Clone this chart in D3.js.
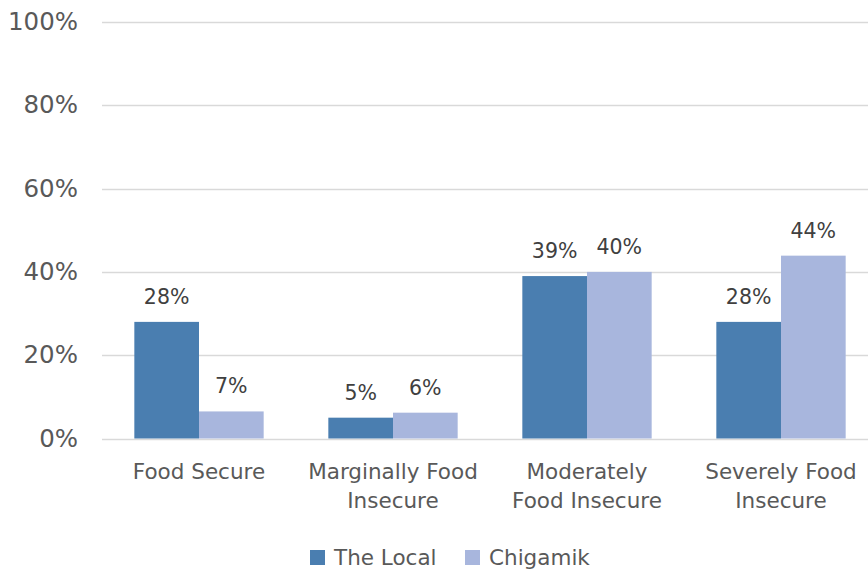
<!DOCTYPE html>
<html><head><meta charset="utf-8">
<script src="https://d3js.org/d3.v7.min.js"></script>
<style>html,body{margin:0;padding:0;background:#fff;}svg{display:block;font-family:"DejaVu Sans",sans-serif;}</style>
</head><body>
<svg id="c" width="868" height="569"></svg>
<script>
const categories = [["Food Secure"], ["Marginally Food", "Insecure"], ["Moderately", "Food Insecure"], ["Severely Food", "Insecure"]];
const categoryKeys = ["Food Secure", "Marginally Food Insecure", "Moderately Food Insecure", "Severely Food Insecure"];
const seriesNames = ["The Local", "Chigamik"];
const theLocal = [28, 5, 39, 28];
const chigamik = [6.5, 6.2, 40, 43.9];
const yTicks = [0, 20, 40, 60, 80, 100];
const colors = ["#4a7eb0", "#a8b6dd"];

const svg = d3.select("#c");
const y = d3.scaleLinear().domain([0, 100]).range([438.5, 22]);
const x0 = d3.scaleBand().domain(categoryKeys).range([102, 878]).paddingInner(1/3).paddingOuter(1/6);
const x1 = d3.scaleBand().domain(seriesNames).range([0, x0.bandwidth()]);
const seriesData = [theLocal, chigamik];

// gridlines
svg.append("g").selectAll("line").data(yTicks).join("line")
  .attr("x1", 102).attr("x2", 878)
  .attr("y1", d => Math.round(y(d)) + 0.5).attr("y2", d => Math.round(y(d)) + 0.5)
  .attr("stroke", "#d9d9d9").attr("stroke-width", 1.5);

// y labels
svg.append("g").selectAll("text").data(yTicks).join("text")
  .attr("x", 78).attr("y", d => y(d)).attr("dy", "0.33em")
  .attr("text-anchor", "end").attr("font-size", 24.5).attr("fill", "#595959")
  .text(d => d + "%");

// bars
const groups = svg.append("g").selectAll("g").data(categoryKeys).join("g")
  .attr("transform", d => `translate(${x0(d)},0)`);
groups.each(function(cat, ci) {
  const g = d3.select(this);
  seriesNames.forEach((s, si) => {
    const v = seriesData[si][ci];
    g.append("rect")
      .attr("x", x1(s)).attr("width", x1.bandwidth())
      .attr("y", y(v)).attr("height", y(0) - y(v))
      .attr("fill", colors[si]);
    g.append("text")
      .attr("x", x1(s) + x1.bandwidth() / 2).attr("y", y(v) - 18)
      .attr("text-anchor", "middle").attr("font-size", 20.5).attr("fill", "#404040")
      .text(Math.round(v) + "%");
  });
});

// category labels
const cl = svg.append("g").selectAll("text").data(categoryKeys).join("text")
  .attr("x", d => x0(d) + x0.bandwidth() / 2)
  .attr("text-anchor", "middle").attr("font-size", 21.5).attr("fill", "#595959");
cl.each(function(d, i) {
  d3.select(this).selectAll("tspan").data(categories[i]).join("tspan")
    .attr("x", x0(d) + x0.bandwidth() / 2)
    .attr("y", (t, j) => 479 + j * 29)
    .text(t => t);
});

// legend
const legendX = [310, 465];
const lg = svg.append("g").selectAll("g").data(seriesNames).join("g")
  .attr("transform", (d, i) => `translate(${legendX[i]},550)`);
lg.append("rect").attr("width", 15).attr("height", 15).attr("fill", (d, i) => colors[i]);
lg.append("text").attr("x", 24).attr("y", 15).attr("font-size", 21.5).attr("fill", "#595959").text(d => d);
</script>
</body></html>
